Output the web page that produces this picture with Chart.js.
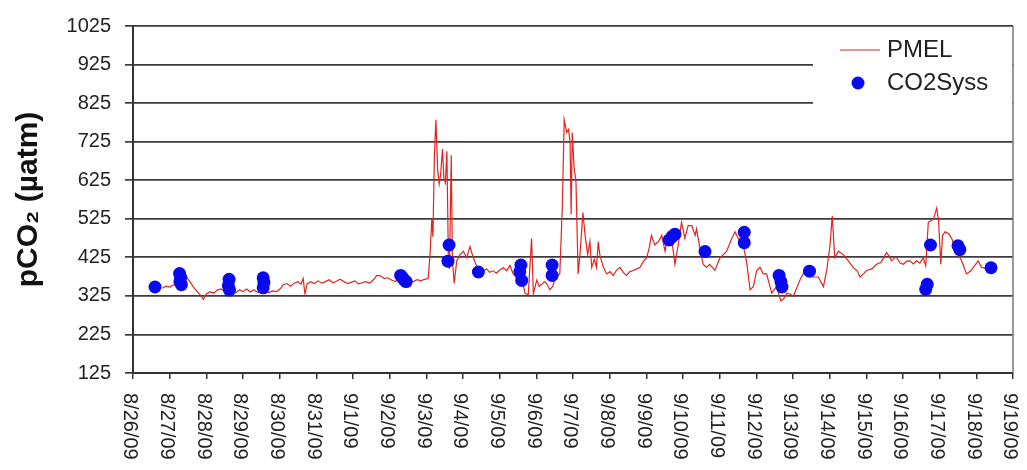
<!DOCTYPE html>
<html>
<head>
<meta charset="utf-8">
<title>pCO2 - PMEL vs CO2Syss</title>
<script src="https://cdn.jsdelivr.net/npm/chart.js@4.4.1/dist/chart.umd.min.js"></script>
<style>
  html, body { margin: 0; padding: 0; background: #fff; }
  #wrap { width: 1027px; height: 470px; }
</style>
</head>
<body>
<div id="wrap"><canvas id="pco2Chart" width="1027" height="470"></canvas></div>
<script>
// ── Data ── //
// x values are days since 8/26/09 00:00
const dateLabels = [
  '8/26/09', '8/27/09', '8/28/09', '8/29/09', '8/30/09', '8/31/09', '9/1/09',
  '9/2/09', '9/3/09', '9/4/09', '9/5/09', '9/6/09', '9/7/09', '9/8/09',
  '9/9/09', '9/10/09', '9/11/09', '9/12/09', '9/13/09', '9/14/09', '9/15/09',
  '9/16/09', '9/17/09', '9/18/09', '9/19/09'
];
const yTickValues = [125, 225, 325, 425, 525, 625, 725, 825, 925, 1025];

const pmelDays = [
  0.80, 0.90, 1.00, 1.10, 1.20, 1.30, 1.40, 1.46, 1.55, 1.65, 1.75, 1.85, 1.92,
  2.00, 2.10, 2.20, 2.30, 2.40, 2.50, 2.60, 2.70, 2.80, 2.90, 3.00, 3.10, 3.20,
  3.30, 3.40, 3.50, 3.60, 3.70, 3.80, 3.92, 4.02, 4.10, 4.20, 4.30, 4.40, 4.50,
  4.58, 4.64, 4.69, 4.75, 4.85, 4.95, 5.05, 5.15, 5.25, 5.35, 5.45, 5.55, 5.65,
  5.75, 5.85, 5.95, 6.05, 6.15, 6.25, 6.35, 6.45, 6.55, 6.65, 6.75, 6.85, 6.95,
  7.05, 7.15, 7.25, 7.35, 7.45, 7.55, 7.65, 7.75, 7.85, 7.95, 8.05, 8.10, 8.15,
  8.18, 8.22, 8.26, 8.31, 8.35, 8.39, 8.44, 8.48, 8.52, 8.56, 8.60, 8.63, 8.68,
  8.71, 8.76, 8.83, 8.92, 9.01, 9.10, 9.19, 9.28, 9.37, 9.46, 9.55, 9.64, 9.73,
  9.82, 9.91, 10.00, 10.10, 10.19, 10.28, 10.37, 10.46, 10.55, 10.62, 10.69,
  10.78, 10.87, 10.92, 11.01, 11.08, 11.15, 11.22, 11.28, 11.37, 11.45, 11.51,
  11.64, 11.71, 11.76, 11.83, 11.88, 11.92, 11.95, 11.98, 12.03, 12.08, 12.14,
  12.19, 12.27, 12.33, 12.40, 12.46, 12.51, 12.58, 12.64, 12.69, 12.73, 12.83,
  12.92, 13.01, 13.10, 13.19, 13.28, 13.37, 13.46, 13.55, 13.64, 13.74, 13.83,
  13.92, 14.01, 14.08, 14.14, 14.23, 14.33, 14.42, 14.51, 14.60, 14.69, 14.78,
  14.87, 14.96, 15.05, 15.14, 15.24, 15.33, 15.37, 15.46, 15.55, 15.64, 15.73,
  15.87, 16.01, 16.10, 16.19, 16.33, 16.42, 16.51, 16.64, 16.73, 16.83, 16.92,
  17.01, 17.10, 17.19, 17.28, 17.42, 17.55, 17.67, 17.75, 17.83, 17.92, 18.01,
  18.10, 18.19, 18.33, 18.45, 18.55, 18.69, 18.83, 18.92, 19.01, 19.07, 19.14,
  19.24, 19.37, 19.51, 19.64, 19.75, 19.83, 19.92, 20.01, 20.15, 20.28, 20.40,
  20.55, 20.62, 20.69, 20.78, 20.83, 20.92, 21.01, 21.10, 21.19, 21.28, 21.37,
  21.46, 21.55, 21.62, 21.69, 21.76, 21.83, 21.92, 21.97, 22.03, 22.08, 22.15,
  22.25, 22.33, 22.46, 22.60, 22.73, 22.85, 22.92, 23.05, 23.14, 23.28, 23.35
];
const pmelCO2 = [
  345, 350, 348, 353, 356, 360, 372, 374, 362, 348, 336, 326, 316,
  330, 336, 332, 340, 343, 337, 346, 338, 333, 341, 336, 343, 335,
  341, 334, 339, 344, 333, 338, 336, 344, 354, 357, 350, 358, 362,
  355, 370, 330, 356, 362, 357, 364, 358, 362, 367, 359, 363, 368,
  362, 357, 360, 364, 356, 359, 362, 358, 366, 378, 377, 370, 372,
  366, 362, 368, 365, 370, 364, 362, 367, 364, 368, 370, 430, 525,
  478, 690, 782, 650, 615, 640, 706, 630, 618, 700, 430, 395, 690,
  420, 357, 416, 432, 441, 424, 453, 424, 403, 392, 388, 395, 386,
  390, 384, 392, 398, 390, 404, 382, 372, 380, 366, 332,
  328, 474, 330, 366, 350, 355, 362, 357, 341, 350, 370,
  382, 560, 782, 749, 757, 724, 537, 749, 657, 624, 382,
  432, 541, 482, 432, 466, 399, 420, 399, 466, 432, 399,
  382, 388, 378, 392, 399, 386, 378, 388, 391, 395, 399,
  415, 424, 450, 482, 457, 466, 482, 441, 491, 474, 407,
  457, 516, 474, 507, 507, 482, 499, 449, 407, 399, 407,
  391, 424, 432, 441, 474, 491, 474, 457, 416, 341, 349,
  391, 399, 382, 382, 332, 349, 312, 318, 332, 330, 324,
  345, 366, 391, 380, 374, 374, 349, 391, 457, 532, 424,
  441, 432, 416, 399, 390, 374, 382, 391, 395, 407, 412,
  437, 428, 416, 425, 424, 410, 407, 415, 416, 408, 416,
  410, 424, 403, 516, 520, 524, 553, 520, 407, 482, 491,
  486, 474, 441, 416, 382, 390, 399, 416, 399, 395, 402
];

const co2sysDays = [
  0.60, 1.27, 1.30, 1.28, 1.32, 2.62, 2.60, 2.63, 3.55, 3.57, 3.55,
  7.30, 7.35, 7.40, 7.45, 8.62, 8.59, 9.42, 10.58, 10.55, 10.60,
  11.43, 11.43, 14.62, 14.70, 14.78, 15.60, 16.67, 16.67,
  17.62, 17.67, 17.70, 18.45, 21.62, 21.66, 21.75, 22.50, 22.55, 23.40
];
const co2sysCO2 = [
  348, 383, 373, 362, 354, 368, 352, 340, 372, 360, 346,
  378, 372, 366, 362, 457, 415, 387, 405, 388, 365,
  405, 378, 470, 478, 485, 440, 490, 463,
  378, 362, 348, 389, 342, 355, 457, 455, 445, 398
];

const FONT = '"Liberation Sans", Arial, sans-serif';
Chart.defaults.font.family = FONT;

// ── Right frame line ── //
const frameRight = {
  id: 'frameRight',
  beforeDatasetsDraw(chart) {
    const { ctx, chartArea } = chart;
    ctx.save();
    ctx.strokeStyle = '#777';
    ctx.lineWidth = 1.5;
    ctx.beginPath();
    ctx.moveTo(chartArea.right, chartArea.top);
    ctx.lineTo(chartArea.right, chartArea.bottom);
    ctx.stroke();
    ctx.restore();
  }
};

// ── Date labels, rotated to read downward ── //
const dateTickLabels = {
  id: 'dateTickLabels',
  afterDraw(chart) {
    const { ctx, chartArea } = chart;
    const xScale = chart.scales.x;
    ctx.save();
    ctx.font = '20px ' + FONT;
    ctx.fillStyle = '#222';
    ctx.textAlign = 'left';
    ctx.textBaseline = 'middle';
    dateLabels.forEach((label, i) => {
      const px = xScale.getPixelForValue(i);
      ctx.save();
      ctx.translate(px - 3, chartArea.bottom + 20);
      ctx.rotate(Math.PI / 2);
      ctx.fillText(label, 0, 0);
      ctx.restore();
    });
    ctx.restore();
  }
};

// ── Legend box inside the plot, top right ── //
const insideLegend = {
  id: 'insideLegend',
  afterDraw(chart) {
    const { ctx, chartArea } = chart;
    const left = chartArea.right - 200;
    const top = chartArea.top + 2;
    const pmel = chart.data.datasets[0];
    const sys = chart.data.datasets[1];
    ctx.save();
    ctx.fillStyle = '#fff';
    ctx.fillRect(left, top, 199, 76);

    ctx.strokeStyle = pmel.borderColor;
    ctx.lineWidth = pmel.borderWidth;
    ctx.beginPath();
    ctx.moveTo(left + 27, top + 22);
    ctx.lineTo(left + 67, top + 22);
    ctx.stroke();

    ctx.fillStyle = sys.backgroundColor;
    ctx.beginPath();
    ctx.arc(left + 45, top + 55, sys.pointRadius, 0, Math.PI * 2);
    ctx.fill();

    ctx.fillStyle = '#222';
    ctx.font = '24px ' + FONT;
    ctx.textAlign = 'left';
    ctx.textBaseline = 'middle';
    ctx.fillText(pmel.label, left + 74, top + 22);
    ctx.fillText(sys.label, left + 74, top + 55);
    ctx.restore();
  }
};

new Chart(document.getElementById('pco2Chart'), {
  type: 'scatter',
  data: {
    datasets: [
      {
        label: 'PMEL',
        type: 'line',
        data: pmelDays.map((d, i) => ({ x: d, y: pmelCO2[i] })),
        borderColor: '#e3231e',
        borderWidth: 1.2,
        pointRadius: 0,
        fill: false,
        tension: 0,
        order: 2,
      },
      {
        label: 'CO2Syss',
        data: co2sysDays.map((d, i) => ({ x: d, y: co2sysCO2[i] })),
        backgroundColor: '#0a0aee',
        borderWidth: 0,
        pointRadius: 6.5,
        order: 1,
      },
    ],
  },
  options: {
    responsive: false,
    animation: false,
    layout: { padding: { top: 15, right: 14, left: 0, bottom: 0 } },
    plugins: {
      legend: { display: false },
      tooltip: { enabled: false },
    },
    scales: {
      x: {
        type: 'linear',
        min: 0,
        max: 24,
        afterBuildTicks: (scale) => {
          scale.ticks = dateLabels.map((_, i) => ({ value: i }));
        },
        afterFit: (scale) => { scale.height = 97; },
        grid: { drawOnChartArea: false, color: '#333', lineWidth: 1.5, tickLength: 6 },
        border: { color: '#333', width: 2 },
        ticks: { display: false },
      },
      y: {
        min: 125,
        max: 1025,
        afterBuildTicks: (scale) => {
          scale.ticks = yTickValues.map(v => ({ value: v }));
        },
        afterFit: (scale) => { scale.width = 133; },
        grid: { color: '#3c3c3c', lineWidth: 1.7, tickLength: 8 },
        border: { color: '#333', width: 2 },
        ticks: {
          color: '#222',
          font: { size: 20 },
          padding: 14,
          callback: (value) => String(value),
        },
        title: {
          display: true,
          text: 'pCO₂ (µatm)',
          color: '#111',
          font: { size: 30, weight: 'bold' },
          padding: { top: 11, bottom: 0 },
        },
      },
    },
  },
  plugins: [frameRight, dateTickLabels, insideLegend],
});
</script>
</body>
</html>
